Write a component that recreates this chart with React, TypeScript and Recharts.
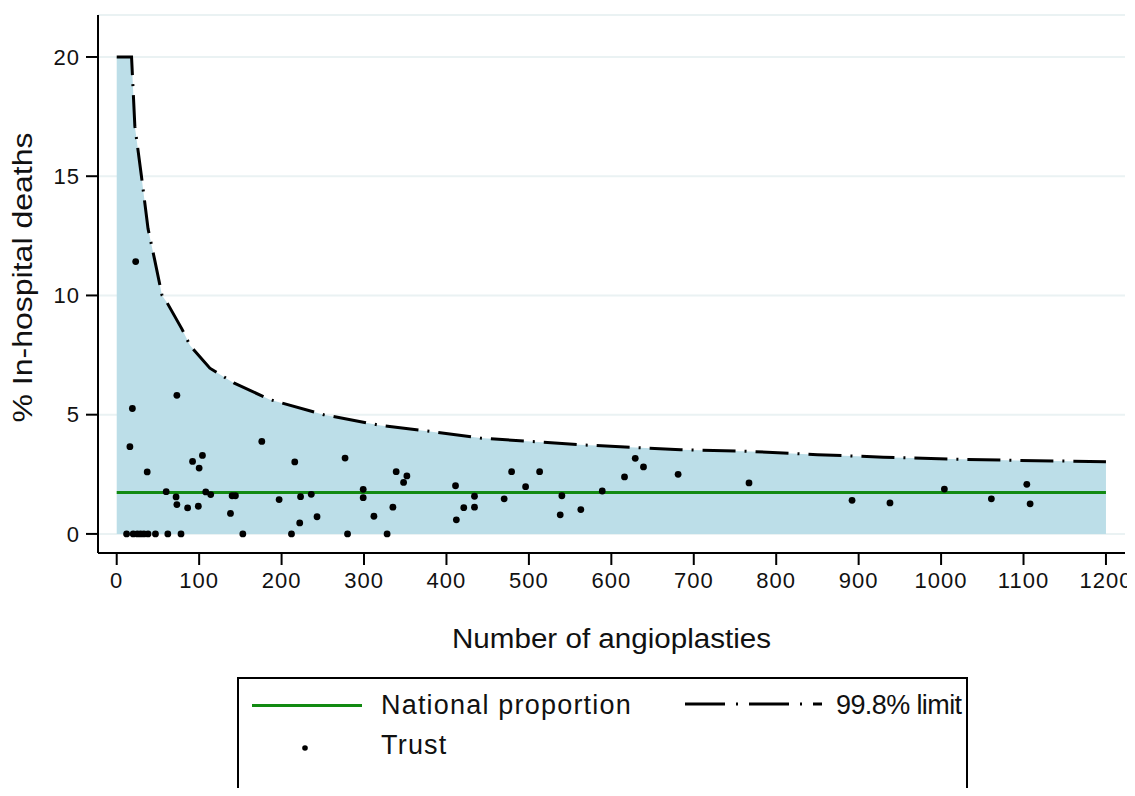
import React from 'react';
import { ComposedChart, Area, Scatter, XAxis, YAxis, CartesianGrid, ReferenceLine, Label } from 'recharts';

// axis ticks
const xTicks = [0, 100, 200, 300, 400, 500, 600, 700, 800, 900, 1000, 1100, 1200];
const yTicks = [0, 5, 10, 15, 20];

// 99.8% upper control limit
const limitN = [0, 18, 22, 30, 38, 46, 55, 61, 79, 89, 113, 142, 186, 251, 320, 380, 441, 502, 562, 623, 684, 769, 850, 930, 1011, 1092, 1200];
const limitPct = [20, 20, 17.1, 15.0, 12.8, 11.5, 10.0, 9.7, 8.6, 7.9, 6.95, 6.33, 5.63, 5.0, 4.55, 4.3, 4.02, 3.88, 3.74, 3.63, 3.53, 3.46, 3.32, 3.22, 3.14, 3.08, 3.03];

// trusts: number of angioplasties / % in-hospital deaths
const trustN = [
  12, 20, 25, 29, 33, 38, 47, 62, 78, 153, 212, 280, 328,
  23, 19, 16, 73, 37, 176, 92, 104, 100, 216, 277, 60, 72, 73, 86, 99, 108, 114, 138, 140, 144, 197, 223, 222, 236, 243, 299, 299, 312,
  339, 352, 348, 335, 411, 412, 421, 434, 434, 470, 479, 496, 513, 540, 538, 563, 589, 616, 629, 639, 681, 767,
  892, 938, 1004, 1061, 1104, 1108,
];
const trustPct = [
  0, 0, 0, 0, 0, 0, 0, 0, 0, 0, 0, 0, 0,
  11.42, 5.26, 3.66, 5.81, 2.6, 3.88, 3.04, 3.29, 2.76, 3.02, 3.18, 1.77, 1.55, 1.23, 1.09, 1.16, 1.76, 1.65, 0.86, 1.6, 1.6, 1.44, 1.56, 0.46, 1.66, 0.72, 1.87, 1.52, 0.74,
  2.61, 2.43, 2.16, 1.12, 2.02, 0.59, 1.1, 1.58, 1.12, 1.47, 2.61, 1.98, 2.61, 1.6, 0.8, 1.02, 1.8, 2.39, 3.17, 2.81, 2.5, 2.14,
  1.41, 1.3, 1.88, 1.47, 2.08, 1.26,
];

const nationalPct = 1.74;

const limitData = limitN.map((n, i) => ({ n, limit: limitPct[i] }));
const trustData = trustN.map((n, i) => ({ n, pct: trustPct[i] }));

const FONT = "'Liberation Sans', Arial, Helvetica, sans-serif";
const TEXT = '#111';
const GREEN = '#128a12';
const BAND = '#bcdee8';

const TrustDot = (props: any) => <circle cx={props.cx} cy={props.cy} r={3.4} fill="#000" />;

const XTitle = (props: any) => {
  const vb = props.viewBox;
  return (
    <text x={vb.x + vb.width / 2} y={vb.y + 95} textAnchor="middle" fontSize={27} fill={TEXT}
      textLength={319} lengthAdjust="spacingAndGlyphs" style={{ letterSpacing: 0 }}>
      Number of angioplasties
    </text>
  );
};

const YTitle = (props: any) => {
  const vb = props.viewBox;
  const cy = vb.y + vb.height / 2 - 6.5;
  return (
    <text x={24} y={cy} transform={`rotate(-90 24 ${cy})`} textAnchor="middle" fontSize={27} fill={TEXT}
      textLength={290} lengthAdjust="spacingAndGlyphs" style={{ letterSpacing: 0 }}>
      % In-hospital deaths
    </text>
  );
};

const legendText: React.CSSProperties = {
  position: 'absolute',
  fontSize: 27,
  lineHeight: '30px',
  letterSpacing: '1.2px',
  color: TEXT,
  whiteSpace: 'nowrap',
};

const FunnelLegend = () => (
  <div style={{ position: 'absolute', left: 229, top: 669, width: 731, height: 160, border: '2px solid #000', boxSizing: 'border-box', background: '#fff' }}>
    <div style={{ position: 'absolute', left: 13, top: 24.5, width: 110, height: 3, background: GREEN }} />
    <span style={{ ...legendText, left: 142, top: 11 }}>National proportion</span>
    <svg style={{ position: 'absolute', left: 446, top: 20 }} width={137} height={10}>
      <line x1={0} y1={5} x2={137} y2={5} stroke="#000" strokeWidth={3} strokeDasharray="40 11 2 11" />
    </svg>
    <span style={{ ...legendText, left: 597, top: 11, letterSpacing: '-0.6px' }}>99.8% limit</span>
    <svg style={{ position: 'absolute', left: 62, top: 65 }} width={8} height={8}>
      <circle cx={4} cy={4} r={2.8} fill="#000" />
    </svg>
    <span style={{ ...legendText, left: 142, top: 51 }}>Trust</span>
  </div>
);

export default function App() {
  return (
    <div style={{ position: 'relative', width: 1127, height: 788, marginBottom: -8, overflow: 'hidden', fontFamily: FONT, letterSpacing: '1px', background: '#fff' }}>
      <ComposedChart width={1127} height={680} data={limitData} margin={{ top: 7, right: 10, left: 0, bottom: 25 }}>
        <CartesianGrid horizontal vertical={false} stroke="#eaf2f3" strokeWidth={2} />
        <XAxis
          dataKey="n"
          type="number"
          domain={[-22.7, 1223.1]}
          allowDataOverflow
          ticks={xTicks}
          interval={0}
          height={110}
          tickSize={12}
          tickMargin={7}
          axisLine={{ stroke: '#000', strokeWidth: 2 }}
          tickLine={{ stroke: '#000', strokeWidth: 2 }}
          tick={{ fontSize: 22, fill: TEXT }}
        >
          <Label content={XTitle} />
        </XAxis>
        <YAxis
          type="number"
          domain={[-0.8, 21.76]}
          allowDataOverflow
          ticks={yTicks}
          interval={0}
          width={90}
          tickSize={12}
          tickMargin={6}
          axisLine={{ stroke: '#000', strokeWidth: 2 }}
          tickLine={{ stroke: '#000', strokeWidth: 2 }}
          tick={{ fontSize: 22, fill: TEXT }}
        >
          <Label content={YTitle} />
        </YAxis>
        <Area
          dataKey="limit"
          type="linear"
          fill={BAND}
          fillOpacity={1}
          stroke="#000"
          strokeWidth={3}
          strokeDasharray="33 9 2 9"
          dot={false}
          activeDot={false}
          isAnimationActive={false}
        />
        <ReferenceLine segment={[{ x: 0, y: nationalPct }, { x: 1200, y: nationalPct }]} stroke={GREEN} strokeWidth={3} />
        <Scatter data={trustData} dataKey="pct" shape={TrustDot} isAnimationActive={false} />
      </ComposedChart>
      <FunnelLegend />
    </div>
  );
}
